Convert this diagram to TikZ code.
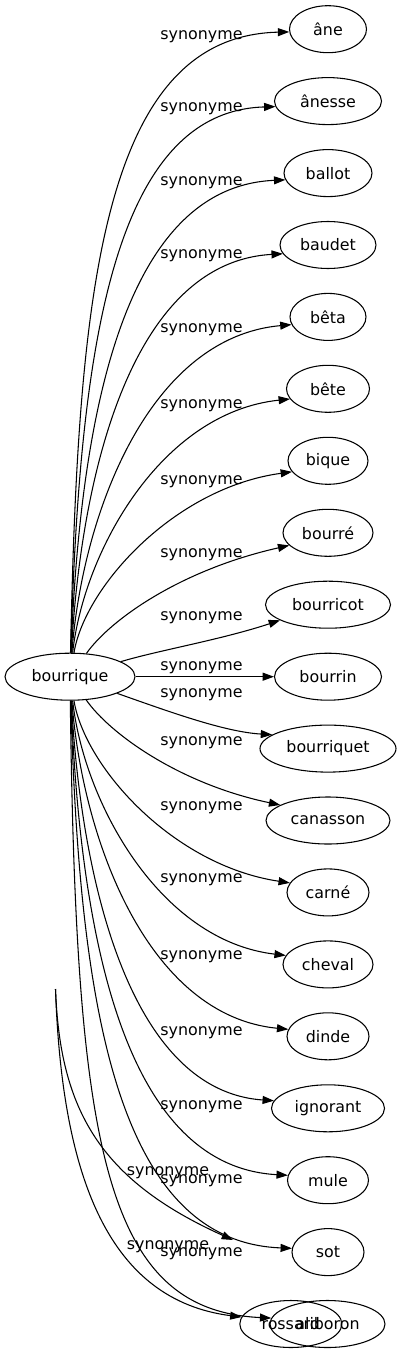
\documentclass[tikz,border=0pt]{standalone}
\usepackage{fontspec}
\setmainfont{DejaVu Sans}
\usetikzlibrary{shapes.geometric,arrows.meta}
\begin{document}
\begin{tikzpicture}[x=0.75pt,y=-0.75pt,
  word/.style={ellipse,draw,line width=0.8pt,inner sep=0pt,minimum height=35.25pt,font=\fontsize{11.9pt}{14pt}\selectfont},
  lab/.style={inner sep=0pt,font=\fontsize{11.9pt}{14pt}\selectfont},
  syn/.style={draw,line width=0.8pt,-{Triangle[length=8.5pt,width=6pt]}}]
\useasboundingbox (0,0) rectangle (402,1355);
% nodes
\node[word,minimum width=97.5pt] (bourrique) at (70,676.7) {bourrique};
\node[word,minimum width=57.75pt] (ane) at (328,29.2) {âne};
\node[word,minimum width=80.25pt] (anesse) at (328,101.1) {ânesse};
\node[word,minimum width=66pt] (ballot) at (328,173.1) {ballot};
\node[word,minimum width=72pt] (baudet) at (328,245.0) {baudet};
\node[word,minimum width=57pt] (beta) at (328,316.9) {bêta};
\node[word,minimum width=62.25pt] (bete) at (328,388.8) {bête};
\node[word,minimum width=60pt] (bique) at (328,460.8) {bique};
\node[word,minimum width=67.5pt] (bourre) at (328,532.8) {bourré};
\node[word,minimum width=93.75pt] (bourricot) at (328,604.7) {bourricot};
\node[word,minimum width=80.25pt] (bourrin) at (328,676.7) {bourrin};
\node[word,minimum width=102pt] (bourriquet) at (328,748.6) {bourriquet};
\node[word,minimum width=93pt] (canasson) at (328,820.5) {canasson};
\node[word,minimum width=61.5pt] (carne) at (328,892.4) {carné};
\node[word,minimum width=67.5pt] (cheval) at (328,964.4) {cheval};
\node[word,minimum width=61.5pt] (dinde) at (328,1036.3) {dinde};
\node[word,minimum width=84.75pt] (ignorant) at (328,1108.3) {ignorant};
\node[word,minimum width=60.75pt] (mule) at (328,1180.2) {mule};
\node[word,minimum width=54pt] (sot) at (328,1252.1) {sot};
\node[word,minimum width=76.5pt] (rossard) at (290.8,1324) {rossard};
\node[word,minimum width=86.25pt] (aliboron) at (327.5,1324) {aliboron};
\coordinate (p0) at (55.5,989);
\coordinate (p1) at (233,1240);
% edges
\draw[syn] (bourrique) .. controls (78,297.9) and (100.3,36.2) .. (ane.184);
\draw[syn] (bourrique) .. controls (79.2,359.1) and (109.9,111.4) .. (anesse.186);
\draw[syn] (bourrique) .. controls (80.3,415.2) and (123.6,186.8) .. (ballot.189);
\draw[syn] (bourrique) .. controls (81.5,465.9) and (134.4,262) .. (baudet.191);
\draw[syn] (bourrique) .. controls (82.7,511.3) and (149.8,337.3) .. (beta.192);
\draw[syn] (bourrique) .. controls (83.8,551.5) and (160.9,412.6) .. (bete.195);
\draw[syn] (bourrique) .. controls (85,586.4) and (174.5,487.8) .. (bique.197);
\draw[syn] (bourrique) .. controls (110,620) and (180,570) .. (bourre.198);
\draw[syn] (bourrique) .. controls (160,650) and (220,640) .. (bourricot.198);
\draw[syn] (bourrique) -- (bourrin);
\draw[syn] (bourrique) .. controls (170,712) and (225,732) .. (bourriquet.166);
\draw[syn] (bourrique) .. controls (110,734) and (180,784) .. (canasson.162);
\draw[syn] (bourrique) .. controls (85,767.3) and (173,865.4) .. (carne.166);
\draw[syn] (bourrique) .. controls (83.8,802) and (159.4,940.6) .. (cheval.168);
\draw[syn] (bourrique) .. controls (82.7,842.3) and (148.8,1015.9) .. (dinde.170);
\draw[syn] (bourrique) .. controls (81.5,887.8) and (132.2,1091.2) .. (ignorant.172);
\draw[syn] (bourrique) .. controls (80.4,938) and (124.5,1166.3) .. (mule.173);
\draw[syn] (bourrique) .. controls (79.2,994) and (113,1241.6) .. (sot.174);
\draw[syn] (bourrique) .. controls (76,1150) and (105,1310) .. (aliboron.174);
\draw[syn] (p0) .. controls (62,1180) and (110,1300) .. (rossard.172);
\draw[syn] (p0) .. controls (60,1110) and (100,1180) .. (p1);
% labels
\node[lab] (l1) at (201.5,36.3) {synonyme};
\node[lab] (l2) at (201.5,109) {synonyme};
\node[lab] (l3) at (201.5,182.7) {synonyme};
\node[lab] (l4) at (201.5,256) {synonyme};
\node[lab] (l5) at (201.5,330) {synonyme};
\node[lab] (l6) at (201.5,406) {synonyme};
\node[lab] (l7) at (201.5,482) {synonyme};
\node[lab] (l8) at (201.5,555) {synonyme};
\node[lab] (l9) at (201.5,618) {synonyme};
\node[lab] (l10) at (201.5,668) {synonyme};
\node[lab] (l11) at (201.5,695) {synonyme};
\node[lab] (l12) at (201.5,743) {synonyme};
\node[lab] (l13) at (201.5,808) {synonyme};
\node[lab] (l14) at (201.5,880) {synonyme};
\node[lab] (l15) at (201.5,956.7) {synonyme};
\node[lab] (l16) at (201.5,1032.7) {synonyme};
\node[lab] (l17) at (201.5,1106.7) {synonyme};
\node[lab] (l18) at (168,1173) {synonyme};
\node[lab] (l19) at (201.5,1181) {synonyme};
\node[lab] (l20) at (168,1246.5) {synonyme};
\node[lab] (l21) at (201.5,1253.5) {synonyme};
\end{tikzpicture}
\end{document}
